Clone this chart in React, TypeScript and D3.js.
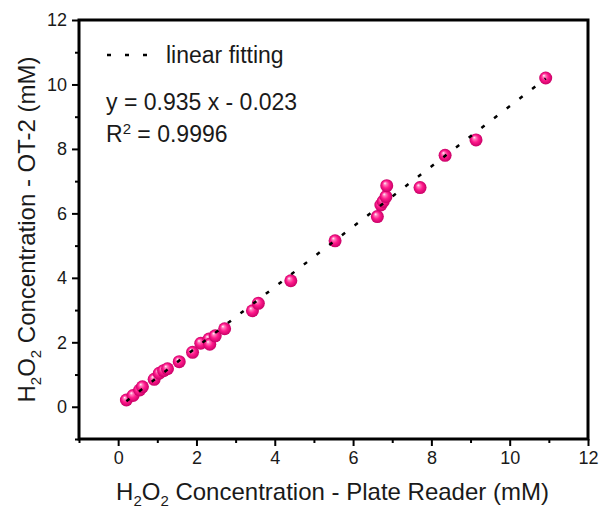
import React, { useEffect, useRef } from 'react';
import * as d3 from 'd3';

// H2O2 read on the plate reader (x) vs. on the OT-2 (y), mM
const plateReader = [0.21, 0.38, 0.55, 0.62, 0.92, 1.05, 1.16, 1.26, 1.56, 1.9, 2.11, 2.32, 2.34, 2.48, 2.72, 3.43, 3.58, 4.41, 5.54, 6.62, 6.71, 6.77, 6.84, 6.86, 7.71, 8.35, 9.14, 10.92];
const ot2 = [0.21, 0.35, 0.52, 0.62, 0.85, 1.04, 1.12, 1.18, 1.4, 1.69, 1.97, 2.1, 1.94, 2.2, 2.42, 2.98, 3.21, 3.91, 5.15, 5.9, 6.26, 6.37, 6.52, 6.86, 6.8, 7.8, 8.28, 10.2];

const majorTicks = [0, 2, 4, 6, 8, 10, 12];
const minorTicks = [-1, 1, 3, 5, 7, 9, 11];

// linear fit as reported
const slope = 0.935;
const intercept = -0.023;

const W = 602;
const H = 510;
const font = '"Liberation Sans", Arial, sans-serif';

export default function App() {
  const ref = useRef<SVGGElement>(null);

  const x = d3.scaleLinear().domain([-1, 12]).range([79, 588]);
  const y = d3.scaleLinear().domain([-1, 12]).range([439, 20]);

  useEffect(() => {
    const g = d3.select(ref.current);
    g.selectAll('*').remove();

    const data = plateReader.map((v, i) => ({ x: v, y: ot2[i] }));

    // points
    g.append('g')
      .selectAll('circle')
      .data(data)
      .enter()
      .append('circle')
      .attr('cx', d => x(d.x))
      .attr('cy', d => y(d.y))
      .attr('r', 6.5)
      .attr('fill', 'url(#sphere)');

    // fit line (drawn over the points)
    const [x0, x1] = d3.extent(plateReader) as [number, number];
    const line = d3.line<number>().x(d => x(d)).y(d => y(slope * d + intercept));
    g.append('path')
      .attr('d', line([x0, x1]))
      .attr('fill', 'none')
      .attr('stroke', '#000')
      .attr('stroke-width', 2.5)
      .attr('stroke-dasharray', '4 12');

    // axes
    const bottom = g.append('g').attr('transform', `translate(0,${y(-1)})`);
    bottom.call(d3.axisBottom(x).tickValues(majorTicks).tickSize(7).tickSizeOuter(0).tickPadding(5));
    bottom.call(g2 => g2.append('g').call(d3.axisBottom(x).tickValues(minorTicks).tickSize(4).tickSizeOuter(0).tickFormat(() => '')));
    const left = g.append('g').attr('transform', `translate(${x(-1)},0)`);
    left.call(d3.axisLeft(y).tickValues(majorTicks).tickSize(7).tickSizeOuter(0).tickPadding(5));
    left.call(g2 => g2.append('g').call(d3.axisLeft(y).tickValues(minorTicks).tickSize(4).tickSizeOuter(0).tickFormat(() => '')));

    g.selectAll('.domain').remove();
    g.selectAll('.tick line').attr('stroke', '#000').attr('stroke-width', 2);
    g.selectAll('.tick text')
      .attr('fill', '#1a1a1a')
      .style('font-family', font)
      .style('font-size', '18px');

    // frame
    g.append('rect')
      .attr('x', x(-1))
      .attr('y', y(12))
      .attr('width', x(12) - x(-1))
      .attr('height', y(-1) - y(12))
      .attr('fill', 'none')
      .attr('stroke', '#000')
      .attr('stroke-width', 3);
  }, []);

  return (
    <svg width={W} height={H} style={{ position: 'absolute', left: 0, top: 0, background: '#fff' }}>
      <defs>
        <radialGradient id="sphere" cx="0.5" cy="0.5" r="0.5" fx="0.35" fy="0.3">
          <stop offset="0" stopColor="#ffffff" />
          <stop offset="0.22" stopColor="#ff7cbc" />
          <stop offset="0.55" stopColor="#ff1a8c" />
          <stop offset="1" stopColor="#c80066" />
        </radialGradient>
      </defs>
      <g ref={ref} />

      {/* legend */}
      <line x1={107} x2={147} y1={55} y2={55} stroke="#000" strokeWidth={2.5} strokeDasharray="4 14" />
      <text x={166} y={63} fontFamily={font} fontSize={23} fill="#1a1a1a">linear fitting</text>
      <text x={106} y={110} fontFamily={font} fontSize={23} fill="#1a1a1a">y = 0.935 x - 0.023</text>
      <text x={106} y={142} fontFamily={font} fontSize={23} fill="#1a1a1a">
        R<tspan dy={-8} fontSize={15}>2</tspan><tspan dy={8}> = 0.9996</tspan>
      </text>

      {/* axis titles */}
      <text x={(79 + 588) / 2 - 1} y={500} textAnchor="middle" fontFamily={font} fontSize={24} fill="#1a1a1a">
        H<tspan dy={6} fontSize={15}>2</tspan><tspan dy={-6}>O</tspan><tspan dy={6} fontSize={15}>2</tspan>
        <tspan dy={-6}> Concentration - Plate Reader (mM)</tspan>
      </text>
      <text transform={`translate(35,${(20 + 439) / 2}) rotate(-90)`} textAnchor="middle" fontFamily={font} fontSize={24} fill="#1a1a1a">
        H<tspan dy={6} fontSize={15}>2</tspan><tspan dy={-6}>O</tspan><tspan dy={6} fontSize={15}>2</tspan>
        <tspan dy={-6}> Concentration - OT-2 (mM)</tspan>
      </text>
    </svg>
  );
}
